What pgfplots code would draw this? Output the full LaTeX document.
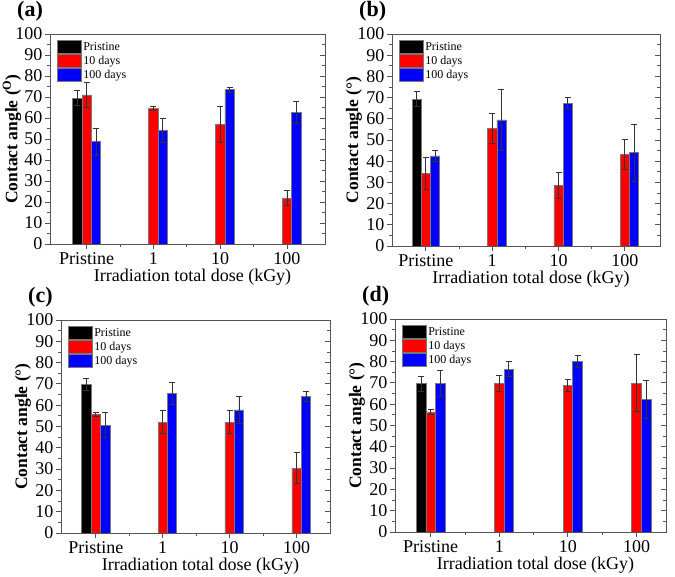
\documentclass[border=0pt]{standalone}
\usepackage{fontspec}
\setmainfont{Liberation Serif}
\usepackage{pgfplots}
\pgfplotsset{compat=1.18}

\definecolor{axisgray}{RGB}{85,85,85}
\definecolor{bargray}{RGB}{120,120,120}
\definecolor{errgray}{RGB}{50,50,50}

\tikzset{plabel/.style={anchor=base west, inner sep=0pt,
    font=\bfseries\fontsize{22}{22}\selectfont}}

\pgfplotsset{
  panel/.style={
    scale only axis,
    ymin=0, ymax=100,
    ytick={0,10,...,100},
    minor y tick num=1,
    xtick={0,1,2,3},
    xticklabels={Pristine,1,10,100},
    minor xtick={0.5,1.5,2.5},
    xtick pos=left, ytick pos=left,
    tick align=outside,
    major tick length=5pt, minor tick length=3pt,
    axis line style={axisgray, line width=0.9pt},
    tick style={axisgray, line width=0.8pt},
    tick label style={font=\fontsize{18}{18}\selectfont},
    yticklabel style={xshift=1pt},
    /pgf/number format/assume math mode=true,
    every axis y label/.style={at={(axis description cs:0,0.5)}, xshift=-38pt,
      rotate=90, anchor=center, font=\bfseries\fontsize{17.5}{17.5}\selectfont},
    every axis x label/.style={at={(axis description cs:0.5,0)}, xshift=5pt,
      yshift=-38pt, anchor=base, font=\fontsize{18}{18}\selectfont},
    xlabel={Irradiation total dose (kGy)},
    legend style={draw=none, fill=none, at={(axis description cs:0,1)},
      anchor=north west, xshift=7pt, yshift=-6pt, inner sep=0pt,
      row sep=0.7pt, font=\fontsize{12}{12}\selectfont,
      nodes={inner sep=1.5pt}},
    legend cell align=left,
  },
  % bars sit at their own x (group index +- 0.14), no automatic shift
  bars/.style={
    ybar, bar width=0.14, bar shift=0pt, draw=bargray, line width=0.6pt,
    legend image code/.code={\draw[##1,draw=bargray] (0pt,-6.3pt) rectangle (24pt,6.3pt);},
    error bars/y dir=both, error bars/y explicit,
    error bars/error mark=-,
    error bars/error bar style={errgray, line width=0.8pt},
    error bars/error mark options={errgray, rotate=90, mark size=3pt, line width=0.8pt},
  },
  rticks/.style={
    scale only axis,
    ymin=0, ymax=100, xmin=0, xmax=1,
    ytick={0,10,...,100}, minor y tick num=1,
    axis x line=none, axis y line*=right,
    tick align=inside, yticklabels={},
    major tick length=5pt, minor tick length=3pt,
    axis line style={axisgray, line width=0.9pt},
    tick style={axisgray, line width=0.8pt},
  },
}

\begin{document}
\begin{tikzpicture}
\useasboundingbox (0,0) rectangle (675pt,577pt);

% (a)
\begin{axis}[panel, name=a, at={(50pt,333pt)}, width=275pt, height=210pt,
  xmin=-0.55, xmax=3.57, ylabel={Contact angle (\textsuperscript{O})}]
\addplot[bars, fill=black] coordinates {(-0.14,69.4) +- (0,3.6)};
\addplot[bars, fill=red] coordinates {
  (0,71.0) +- (0,5.9) (1,64.6) +- (0,1.1) (2,57.1) +- (0,8.6) (3,21.9) +- (0,3.5)};
\addplot[bars, fill=blue] coordinates {
  (0.14,48.7) +- (0,6.3) (1.14,54.1) +- (0,5.9) (2.14,73.5) +- (0,1.1) (3.14,62.7) +- (0,5.2)};
\legend{Pristine, 10 days, 100 days}
\end{axis}
\begin{axis}[rticks, at={(50pt,333pt)}, width=275pt, height=210pt]
\end{axis}
\node[plabel] at ([xshift=-33pt, yshift=17pt]a.north west) {(a)};

% (b)
\begin{axis}[panel, name=b, at={(392pt,331pt)}, width=268pt, height=212pt,
  xmin=-0.51, xmax=3.53, ylabel={Contact angle (°)}]
\addplot[bars, fill=black] coordinates {(-0.14,69.4) +- (0,3.4)};
\addplot[bars, fill=red] coordinates {
  (0,34.4) +- (0,7.5) (1,55.4) +- (0,7.2) (2,28.6) +- (0,6.3) (3,43.2) +- (0,7.0)};
\addplot[bars, fill=blue] coordinates {
  (0.14,42.5) +- (0,2.7) (1.14,59.5) +- (0,14.5) (2.14,67.3) +- (0,2.6) (3.14,44.0) +- (0,13.5)};
\legend{Pristine, 10 days, 100 days}
\end{axis}
\begin{axis}[rticks, at={(392pt,331pt)}, width=268pt, height=212pt]
\end{axis}
\node[plabel] at ([xshift=-33pt, yshift=17pt]b.north west) {(b)};

% (c)
\begin{axis}[panel, name=c, at={(61pt,44pt)}, width=269pt, height=213pt,
  xmin=-0.52, xmax=3.5, ylabel={Contact angle (°)}]
\addplot[bars, fill=black] coordinates {(-0.14,69.8) +- (0,3.0)};
\addplot[bars, fill=red] coordinates {
  (0,55.8) +- (0,1.0) (1,52.1) +- (0,5.5) (2,52.1) +- (0,5.5) (3,30.5) +- (0,7.2)};
\addplot[bars, fill=blue] coordinates {
  (0.14,50.7) +- (0,6.0) (1.14,65.7) +- (0,5.1) (2.14,57.8) +- (0,6.2) (3.14,64.0) +- (0,2.4)};
\legend{Pristine, 10 days, 100 days}
\end{axis}
\begin{axis}[rticks, at={(61pt,44pt)}, width=269pt, height=213pt]
\end{axis}
\node[plabel] at ([xshift=-33pt, yshift=17pt]c.north west) {(c)};

% (d)
\begin{axis}[panel, name=d, at={(395pt,45pt)}, width=271pt, height=213pt,
  xmin=-0.52, xmax=3.43, ylabel={Contact angle (°)}]
\addplot[bars, fill=black] coordinates {(-0.14,69.6) +- (0,3.5)};
\addplot[bars, fill=red] coordinates {
  (0,56.4) +- (0,1.0) (1,69.9) +- (0,3.7) (2,69.0) +- (0,2.8) (3,69.9) +- (0,13.3)};
\addplot[bars, fill=blue] coordinates {
  (0.14,69.6) +- (0,6.1) (1.14,76.5) +- (0,3.6) (2.14,80.0) +- (0,2.7) (3.14,62.2) +- (0,8.8)};
\legend{Pristine, 10 days, 100 days}
\end{axis}
\begin{axis}[rticks, at={(395pt,45pt)}, width=271pt, height=213pt]
\end{axis}
\node[plabel] at ([xshift=-33pt, yshift=17pt]d.north west) {(d)};
\end{tikzpicture}
\end{document}
